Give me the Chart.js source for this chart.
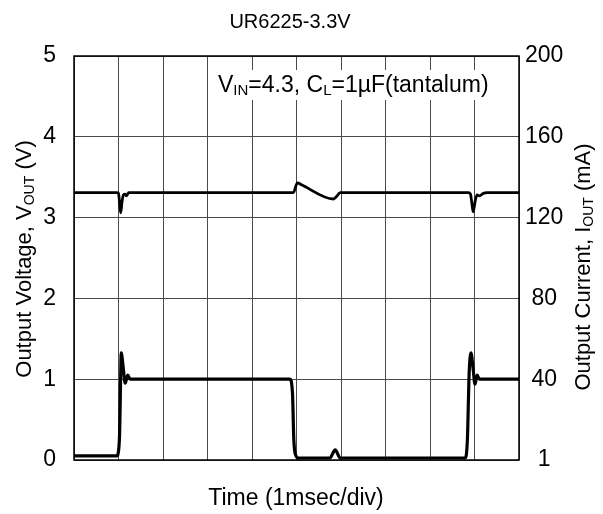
<!DOCTYPE html>
<html><head><meta charset="utf-8">
<script src="https://cdn.jsdelivr.net/npm/chart.js@4.4.1/dist/chart.umd.min.js"></script>
<style>html,body{margin:0;padding:0;background:#fff;}</style>
</head><body>
<canvas id="c" width="603" height="514"></canvas>
<script>
// ---- data (time in divisions of 1 msec) ----
const voltTime = [0, 0.96, 1.0, 1.03, 1.05, 1.08, 1.11, 1.15, 1.18, 1.23, 1.30, 4.93, 5.02, 5.10, 5.83, 5.90, 5.98, 8.86, 8.91, 8.94, 8.97, 9.02, 9.06, 9.11, 9.20, 9.28, 10];
const voltValues = [3.31, 3.31, 3.30, 3.15, 3.06, 3.20, 3.28, 3.29, 3.27, 3.31, 3.31, 3.31, 3.43, 3.41, 3.23, 3.26, 3.31, 3.31, 3.29, 3.18, 3.07, 3.22, 3.28, 3.27, 3.30, 3.31, 3.31];
const currTime = [0, 0.96, 1.02, 1.05, 1.06, 1.11, 1.15, 1.21, 1.26, 4.85, 4.91, 4.94, 4.99, 5.04, 5.75, 5.87, 5.98, 6.05, 8.79, 8.84, 8.88, 8.92, 8.97, 9.01, 9.06, 9.11, 10];
const currValues = [2, 2, 10, 43, 53, 45, 38, 42, 40, 40, 33, 10, 2, 1, 1, 5, 1, 1, 1, 10, 43, 53, 45, 37.5, 42, 40, 40];
const leftTicks = ['0', '1', '2', '3', '4', '5'];
const rightTicks = ['1', '40', '80', '120', '160', '200'];
const chartTitle = 'UR6225-3.3V';
const xTitle = 'Time (1msec/div)';
const leftTitle = [{t:'Output Voltage, V'}, {t:'OUT', sub:true}, {t:' (V)'}];
const rightTitle = [{t:'Output Current, I'}, {t:'OUT', sub:true}, {t:' (mA)'}];
const note = [{t:'V'}, {t:'IN', sub:true}, {t:'=4.3, C'}, {t:'L', sub:true}, {t:'=1\u00b5F(tantalum)'}];

const FONT = '"Liberation Sans", Arial, sans-serif';

function richWidth(ctx, parts, size) {
  let w = 0;
  parts.forEach(p => { ctx.font = (p.sub ? Math.round(size*0.64) : size) + 'px ' + FONT; w += ctx.measureText(p.t).width; });
  return w;
}
function drawRich(ctx, parts, x, y, size) { // x = left, y = baseline
  parts.forEach(p => {
    const s = p.sub ? Math.round(size*0.64) : size;
    ctx.font = s + 'px ' + FONT;
    ctx.fillText(p.t, x, p.sub ? y + size*0.12 : y);
    x += ctx.measureText(p.t).width;
  });
}

const textPlugin = {
  id: 'texts',
  beforeDatasetsDraw(chart) {
    const ctx = chart.ctx, a = chart.chartArea;
    ctx.save();
    ctx.fillStyle = '#fff';
    ctx.fillRect(212, a.top + 14, a.right - 214, 30);
    ctx.fillStyle = '#000';
    ctx.textBaseline = 'alphabetic';
    drawRich(ctx, note, 218, a.top + 36, 23);
    ctx.strokeStyle = '#000';
    ctx.lineWidth = 1.5;
    ctx.strokeRect(a.left, a.top, a.right - a.left, a.bottom - a.top);
    ctx.restore();
  },
  afterDraw(chart) {
    const ctx = chart.ctx, a = chart.chartArea;
    ctx.save();
    ctx.fillStyle = '#000';
    ctx.textBaseline = 'alphabetic';
    ctx.font = '20px ' + FONT;
    ctx.textAlign = 'center';
    ctx.fillText(chartTitle, 290, 28);
    ctx.font = '23px ' + FONT;
    ctx.fillText(xTitle, 296, 505);
    ctx.textAlign = 'left';
    let w = richWidth(ctx, leftTitle, 22);
    ctx.save();
    ctx.translate(31, 259);
    ctx.rotate(-Math.PI/2);
    drawRich(ctx, leftTitle, -w/2, 0, 22);
    ctx.restore();
    w = richWidth(ctx, rightTitle, 22);
    ctx.save();
    ctx.translate(590, 267);
    ctx.rotate(-Math.PI/2);
    drawRich(ctx, rightTitle, -w/2, 0, 22);
    ctx.restore();
    ctx.restore();
  }
};

new Chart(document.getElementById('c'), {
  type: 'line',
  data: {
    datasets: [
      { label: 'VOUT', data: voltTime.map((t, i) => ({x: t, y: voltValues[i]})), yAxisID: 'y',
        borderColor: '#000', borderWidth: 2.8, pointRadius: 0, cubicInterpolationMode: 'monotone', fill: false },
      { label: 'IOUT', data: currTime.map((t, i) => ({x: t, y: currValues[i]})), yAxisID: 'y2',
        borderColor: '#000', borderWidth: 3.2, pointRadius: 0, cubicInterpolationMode: 'monotone', fill: false }
    ]
  },
  options: {
    responsive: false,
    animation: false,
    devicePixelRatio: 1,
    layout: { padding: { top: 56, left: 0, right: 0, bottom: 0 } },
    plugins: { legend: { display: false }, tooltip: { enabled: false }, title: { display: false } },
    scales: {
      x: { type: 'linear', min: 0, max: 10,
        ticks: { display: false, stepSize: 1 },
        grid: { color: '#4a4a4a', lineWidth: 1, drawTicks: false },
        border: { display: false },
        afterFit: s => { s.height = 54; } },
      y: { position: 'left', min: 0, max: 5,
        ticks: { stepSize: 1, padding: 18, color: '#000', font: { family: FONT, size: 23 },
          callback: (v, i) => leftTicks[i] },
        grid: { color: '#4a4a4a', lineWidth: 1, drawTicks: false },
        border: { display: false },
        afterFit: s => { s.width = 74; } },
      y2: { position: 'right', min: 0, max: 200,
        ticks: { stepSize: 40, padding: 6, crossAlign: 'center', color: '#000', font: { family: FONT, size: 23 },
          callback: (v, i) => rightTicks[i] },
        grid: { display: false, drawTicks: false },
        border: { display: false },
        afterFit: s => { s.width = 84; } }
    }
  },
  plugins: [textPlugin]
});
</script>
</body></html>
